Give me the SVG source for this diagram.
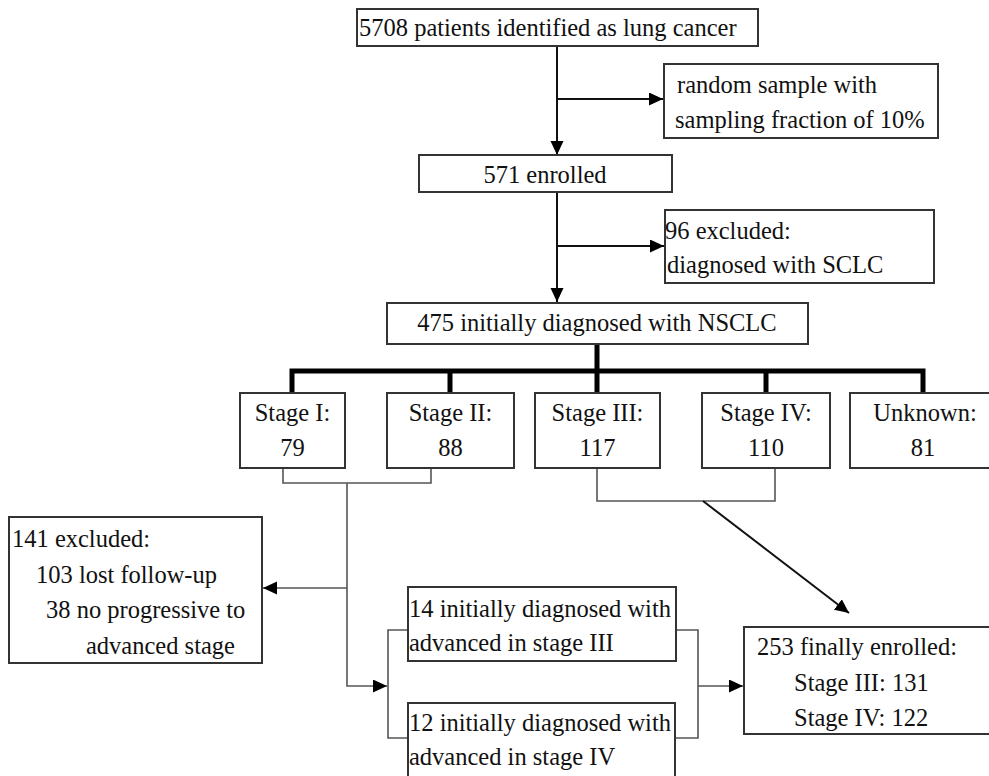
<svg xmlns="http://www.w3.org/2000/svg" width="989" height="776" viewBox="0 0 989 776">
<style>
.box{fill:#fff;stroke:#333;stroke-width:2}
text{font-family:"Liberation Serif","Times New Roman",serif;font-size:24.5px;fill:#111}
.c{text-anchor:middle}
.ln{fill:none;stroke:#111;stroke-width:2}
.thin{fill:none;stroke:#555;stroke-width:1.6}
.thick{fill:none;stroke:#000;stroke-width:5}
</style>
<defs>
<marker id="ah" markerUnits="userSpaceOnUse" markerWidth="15" markerHeight="14" refX="14" refY="6.5" orient="auto"><path d="M0,0 L14,6.5 L0,13 z" fill="#000"/></marker>
</defs>
<rect width="989" height="776" fill="#fff"/>
<g id="connectors">
<path class="ln" d="M557,46 V155" marker-end="url(#ah)"/>
<path class="ln" d="M557,99 H663" marker-end="url(#ah)"/>
<path class="ln" d="M557,192 V302" marker-end="url(#ah)"/>
<path class="ln" d="M557,246 H664" marker-end="url(#ah)"/>
<path class="thick" d="M597,344 V371 M292,393 V371 H923 V393 M450,371 V393 M597,371 V393 M766,371 V393"/>
<path class="thin" d="M283,468 V483 H431 V468"/>
<path class="thin" d="M347,483 V686 H387" marker-end="url(#ah)"/>
<path class="thin" d="M347,588 H263" marker-end="url(#ah)"/>
<path class="thin" d="M408,630 H388 V738 H408"/>
<path class="thin" d="M676,630 H698 V738 H675"/>
<path class="thin" d="M698,686 H743" marker-end="url(#ah)"/>
<path class="thin" d="M597,468 V501 H775 V468"/>
<path class="ln" d="M703,501 L849,613" marker-end="url(#ah)"/>
</g>
<g id="n-5708"><rect class="box" x="357" y="9" width="401" height="37"/><text x="359" y="36">5708 patients identified as lung cancer</text></g>
<g id="n-random"><rect class="box" x="664" y="64" width="274" height="74"/><text x="677" y="93">random sample with</text><text x="675" y="128">sampling fraction of 10%</text></g>
<g id="n-571"><rect class="box" x="419" y="155" width="253" height="37"/><text class="c" x="545" y="183">571 enrolled</text></g>
<g id="n-96"><rect class="box" x="665" y="210" width="269" height="73"/><text x="665" y="239">96 excluded:</text><text x="667" y="273">diagnosed with SCLC</text></g>
<g id="n-475"><rect class="box" x="387" y="303" width="421" height="41"/><text class="c" x="597" y="331">475 initially diagnosed with NSCLC</text></g>
<g id="n-s1"><rect class="box" x="240" y="393" width="105" height="75"/><text class="c" x="292.5" y="421">Stage I:</text><text class="c" x="292.5" y="456">79</text></g>
<g id="n-s2"><rect class="box" x="387" y="393" width="127" height="75"/><text class="c" x="450.5" y="421">Stage II:</text><text class="c" x="450.5" y="456">88</text></g>
<g id="n-s3"><rect class="box" x="535" y="393" width="125" height="75"/><text class="c" x="597.5" y="421">Stage III:</text><text class="c" x="597.5" y="456">117</text></g>
<g id="n-s4"><rect class="box" x="702" y="393" width="128" height="75"/><text class="c" x="766" y="421">Stage IV:</text><text class="c" x="766" y="456">110</text></g>
<g id="n-unk"><rect class="box" x="850" y="393" width="150" height="75"/><text class="c" x="925" y="421">Unknown:</text><text class="c" x="923" y="456">81</text></g>
<g id="n-141"><rect class="box" x="9" y="517" width="253" height="146"/><text x="12" y="547">141 excluded:</text><text x="36" y="583">103 lost follow-up</text><text x="46" y="618">38 no progressive to</text><text x="86" y="654">advanced stage</text></g>
<g id="n-14"><rect class="box" x="408" y="587" width="268" height="74"/><text x="409" y="617">14 initially diagnosed with</text><text x="409" y="651">advanced in stage III</text></g>
<g id="n-12"><rect class="box" x="408" y="703" width="267" height="80"/><text x="409" y="731">12 initially diagnosed with</text><text x="409" y="765">advanced in stage IV</text></g>
<g id="n-253"><rect class="box" x="744" y="627" width="256" height="107"/><text x="757" y="655">253 finally enrolled:</text><text x="794" y="691">Stage III: 131</text><text x="794" y="726">Stage IV: 122</text></g>
</svg>
